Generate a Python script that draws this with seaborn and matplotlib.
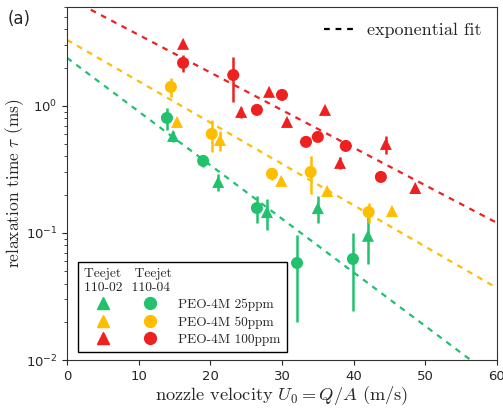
import numpy as np
import pandas as pd
import matplotlib
matplotlib.use("Agg")
import matplotlib.pyplot as plt
import seaborn as sns
from matplotlib.lines import Line2D
from matplotlib.legend_handler import HandlerTuple

# ---------------- data ----------------
concentrations = ["PEO-4M 25ppm", "PEO-4M 50ppm", "PEO-4M 100ppm"]
nozzles = ["110-02", "110-04"]

# Teejet 110-02 (triangles)
u_02_25 = [14.8, 21.1, 27.9, 35.0, 42.0]
tau_02_25 = [0.58, 0.252, 0.146, 0.157, 0.095]
err_02_25 = [0.06, 0.04, 0.04, 0.038, 0.038]

u_02_50 = [15.35, 21.35, 29.9, 36.3, 45.35]
tau_02_50 = [0.748, 0.54, 0.257, 0.214, 0.149]
err_02_50 = [0.0, 0.1, 0.0, 0.0, 0.0]

u_02_100 = [16.2, 24.3, 28.2, 30.7, 36.0, 38.1, 44.5, 48.6]
tau_02_100 = [3.08, 0.897, 1.29, 0.748, 0.93, 0.356, 0.502, 0.226]
err_02_100 = [0.0, 0.09, 0.0, 0.0, 0.0, 0.04, 0.08, 0.0]

# Teejet 110-04 (circles)
u_04_25 = [13.95, 19.0, 26.5, 32.1, 39.9]
tau_04_25 = [0.804, 0.369, 0.157, 0.058, 0.0624]
err_04_25 = [0.16, 0.04, 0.038, 0.038, 0.038]

u_04_50 = [14.5, 20.2, 28.6, 34.0, 42.1]
tau_04_50 = [1.41, 0.602, 0.292, 0.302, 0.146]
err_04_50 = [0.24, 0.17, 0.03, 0.1, 0.027]

u_04_100 = [16.2, 23.2, 26.5, 30.0, 33.35, 35.0, 38.9, 43.8]
tau_04_100 = [2.18, 1.75, 0.93, 1.22, 0.521, 0.57, 0.484, 0.276]
err_04_100 = [0.32, 0.68, 0.0, 0.11, 0.0, 0.0, 0.0, 0.0]

# exponential fits (end points, straight on log axis)
fit_u = [0, 60]
fit_tau_25 = [2.39, 0.0070]
fit_tau_50 = [3.31, 0.0369]
fit_tau_100 = [7.16, 0.120]

x_ticks = [0, 10, 20, 30, 40, 50, 60]

palette = {"PEO-4M 25ppm": "#21c16e",
           "PEO-4M 50ppm": "#ffbd00",
           "PEO-4M 100ppm": "#ee2020"}
marker_map = {"110-02": "^", "110-04": "o"}

# ---------------- build table ----------------
rows = []
series = [
    ("110-02", "PEO-4M 25ppm", u_02_25, tau_02_25, err_02_25),
    ("110-02", "PEO-4M 50ppm", u_02_50, tau_02_50, err_02_50),
    ("110-02", "PEO-4M 100ppm", u_02_100, tau_02_100, err_02_100),
    ("110-04", "PEO-4M 25ppm", u_04_25, tau_04_25, err_04_25),
    ("110-04", "PEO-4M 50ppm", u_04_50, tau_04_50, err_04_50),
    ("110-04", "PEO-4M 100ppm", u_04_100, tau_04_100, err_04_100),
]
for noz, conc, us, ts, es in series:
    for u, t, e in zip(us, ts, es):
        rows.append(dict(u=u, tau=t, err=e, nozzle=noz, conc=conc))
df = pd.DataFrame(rows)

fits = pd.DataFrame({
    "u": fit_u * 3,
    "tau": fit_tau_25 + fit_tau_50 + fit_tau_100,
    "conc": [concentrations[0]] * 2 + [concentrations[1]] * 2 + [concentrations[2]] * 2,
})

# ---------------- plot ----------------
sns.set_style("ticks")
plt.rcParams["mathtext.fontset"] = "cm"
plt.rcParams["font.family"] = ["DejaVu Sans"]

fig = plt.figure(figsize=(5.03, 4.08), dpi=100)
ax = fig.add_axes([0.1332, 0.1176, 0.8548, 0.8652])

sns.lineplot(data=fits, x="u", y="tau", hue="conc", palette=palette,
             ax=ax, legend=False, linewidth=1.6, dashes=False, zorder=2)
for line in ax.lines:
    line.set_dashes((2.6, 2.6))

for _, r in df.iterrows():
    if r.err > 0:
        ax.errorbar(r.u, r.tau, yerr=r.err, fmt="none", ecolor=palette[r.conc],
                    elinewidth=1.8, capsize=0, zorder=2.5)

sns.scatterplot(data=df, x="u", y="tau", hue="conc", style="nozzle",
                palette=palette, markers=marker_map, s=75, linewidth=0,
                ax=ax, legend=False, zorder=3)

ax.set_yscale("log")
ax.set_xlim(0, 60)
ax.set_ylim(0.01, 6.0)
ax.set_xticks(x_ticks)
ax.tick_params(axis="both", labelsize=9.5, direction="out")
for s in ax.spines.values():
    s.set_color("#333333")

ax.set_xlabel(r"nozzle velocity $U_0 = Q/A$ (m/s)", fontfamily="cmr10",
              fontsize=13.2, labelpad=1)
ax.set_ylabel(r"relaxation time $\tau$ (ms)", fontfamily="cmr10",
              fontsize=12.5)
ax.yaxis.set_label_coords(-0.096, 0.5)

# legend: nozzles x concentration
handles = []
for conc in concentrations:
    tri = Line2D([], [], marker="^", linestyle="none", color=palette[conc], markersize=8.5)
    cir = Line2D([], [], marker="o", linestyle="none", color=palette[conc], markersize=8.5)
    handles.append((tri, cir))
leg = ax.legend(handles, concentrations, loc="lower left",
                bbox_to_anchor=(0.026, 0.023),
                handler_map={tuple: HandlerTuple(ndivide=None, pad=0.7)},
                handlelength=6.3, handletextpad=0.75,
                prop={"family": "cmr10", "size": 9.6},
                title="Teejet   Teejet\n110-02  110-04",
                title_fontproperties={"family": "cmr10", "size": 9.8},
                alignment="left", fancybox=False, edgecolor="black",
                framealpha=1, borderaxespad=0.0, labelspacing=0.38,
                borderpad=0.45)
leg.get_frame().set_linewidth(1.0)
ax.add_artist(leg)

fit_handle = Line2D([], [], color="black", linestyle=(0, (2.6, 2.6)), linewidth=1.6)
ax.legend([fit_handle], ["exponential fit"], loc="upper right", frameon=False,
          prop={"family": "cmr10", "size": 13}, handlelength=1.6,
          handletextpad=0.8, borderaxespad=0.45)

fig.text(0.016, 0.94, "(a)", fontsize=12, fontfamily="DejaVu Sans")

fig.savefig("out.png", dpi=100)
